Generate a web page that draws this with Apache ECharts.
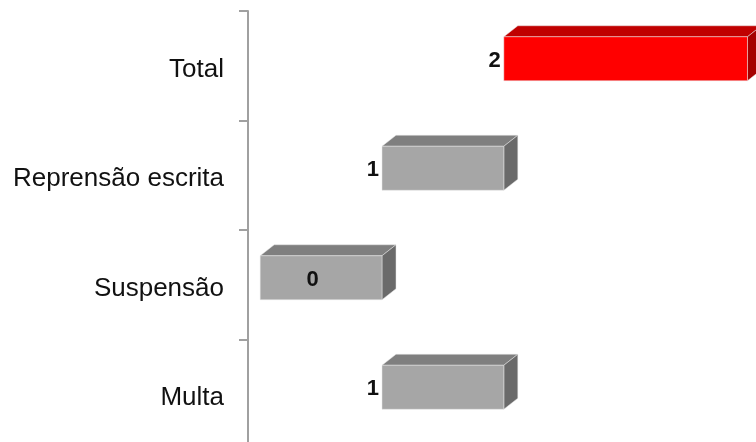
<!DOCTYPE html>
<html>
<head>
<meta charset="utf-8">
<script src="https://cdn.jsdelivr.net/npm/echarts@6/dist/echarts.min.js"></script>
<style>html,body{margin:0;padding:0;background:#fff;overflow:hidden;width:756px;height:442px}#c{width:756px;height:452px}</style>
</head>
<body>
<div id="c"></div>
<script>
// Categories, top to bottom
var categories = ['Total', 'Reprensão escrita', 'Suspensão', 'Multa'];
// Floating bars: start and end values on the value axis
var barStart = [2, 1, 0, 1];
var barEnd = [4, 2, 1, 2];
// Data labels shown on the bars
var barLabels = [2, 1, 0, 1];
var highlight = [true, false, false, false];

var palette = {
  red: { front: '#FF0000', top: '#C00000', side: '#A50000' },
  gray: { front: '#A6A6A6', top: '#7F7F7F', side: '#6A6A6A' }
};

var seriesData = categories.map(function (c, i) {
  return [i, barStart[i], barEnd[i], barLabels[i], highlight[i] ? 1 : 0];
});

var DX = 14, DY = 11, FACE_H = 44, SHIFT = 7;

function renderItem(params, api) {
  var ci = api.value(0);
  var s = api.value(1), e = api.value(2);
  var lbl = api.value(3);
  var col = api.value(4) ? palette.red : palette.gray;
  var p0 = api.coord([s, ci]);
  var p1 = api.coord([e, ci]);
  var x0 = p0[0], x1 = p1[0];
  var cy = p0[1] - SHIFT;
  var yT = cy - FACE_H / 2, yB = cy + FACE_H / 2;
  var children = [
    { type: 'polygon', shape: { points: [[x0, yT], [x0 + DX, yT - DY], [x1 + DX, yT - DY], [x1, yT]] },
      style: { fill: col.top, stroke: '#e6e6e6', lineWidth: 0.5 } },
    { type: 'polygon', shape: { points: [[x1, yT], [x1 + DX, yT - DY], [x1 + DX, yB - DY], [x1, yB]] },
      style: { fill: col.side, stroke: '#e6e6e6', lineWidth: 0.5 } },
    { type: 'rect', shape: { x: x0, y: yT, width: x1 - x0, height: FACE_H },
      style: { fill: col.front, stroke: '#e6e6e6', lineWidth: 0.5 } }
  ];
  var inside = s <= 0;
  children.push({
    type: 'text',
    style: {
      text: String(lbl),
      x: inside ? x0 + (x1 - x0) * 0.43 : x0 - 3,
      y: cy + 2,
      textAlign: inside ? 'center' : 'right',
      textVerticalAlign: 'middle',
      fill: '#111',
      font: 'bold 22px "Liberation Sans", Arial, sans-serif'
    }
  });
  return { type: 'group', children: children };
}

var chart = echarts.init(document.getElementById('c'), null, { renderer: 'canvas', width: 756, height: 452 });
chart.setOption({
  animation: false,
  backgroundColor: '#ffffff',
  grid: { left: 248, top: 11, width: 508, height: 438, containLabel: false },
  xAxis: { type: 'value', min: -0.1, max: 4.07, show: false },
  yAxis: {
    type: 'category',
    inverse: true,
    data: categories,
    axisLine: { show: true, onZero: false, lineStyle: { color: '#A0A0A0', width: 2 } },
    axisTick: { show: true, length: 9, lineStyle: { color: '#A0A0A0', width: 2 } },
    axisLabel: {
      margin: 24,
      formatter: function (v) { return '{a|' + v + '}'; },
      rich: { a: { color: '#111', fontSize: 26, padding: [8, 0, 0, 0], fontFamily: '"Liberation Sans", Arial, sans-serif' } }
    },
    splitLine: { show: false }
  },
  series: [{
    type: 'custom',
    renderItem: renderItem,
    clip: false,
    encode: { x: [1, 2], y: 0 },
    data: seriesData
  }]
});
</script>
</body>
</html>
